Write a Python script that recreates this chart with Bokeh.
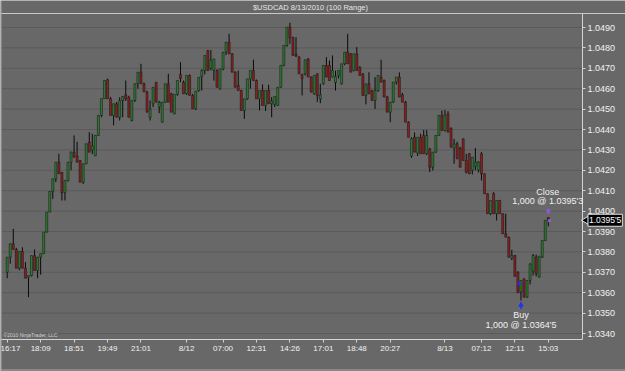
from bokeh.plotting import figure
from bokeh.models import (Range1d, FixedTicker, Label, ColumnDataSource, NumeralTickFormatter,
                          Arrow, NormalHead, Span)
from bokeh.embed import file_html
from bokeh.resources import INLINE

BASE = 1.0300
PIP = 0.0001

open_pips = [
    70.0, 77.4, 84.0, 81.2, 72.0, 80.2, 72.0, 67.6, 68.4, 78.2,
    70.9, 77.4, 79.1, 89.7, 99.5, 109.6, 115.8, 124.0, 119.0, 109.0,
    115.0, 124.0, 128.9, 127.0, 124.8, 114.2, 123.2, 133.8, 130.0, 127.1,
    137.1, 146.9, 155.1, 164.4, 155.1, 146.9, 152.6, 146.0, 154.2, 157.0,
    155.8, 144.4, 154.2, 162.4, 168.1, 162.4, 158.4, 146.0, 152.6, 163.2,
    151.0, 143.6, 153.4, 162.4, 157.5, 147.7, 157.2, 167.0, 163.2, 157.5,
    166.5, 156.7, 150.1, 159.1, 166.0, 168.9, 178.7, 170.0, 169.0, 168.9,
    159.9, 169.7, 177.9, 182.8, 177.1, 168.1, 161.6, 159.1, 149.3, 155.0,
    164.8, 168.9, 164.0, 155.0, 159.1, 151.8, 159.1, 152.6, 152.3, 151.8,
    160.7, 171.4, 181.2, 190.2, 185.0, 177.0, 175.5, 167.0, 167.3, 174.6,
    165.7, 157.5, 167.3, 155.0, 162.4, 171.4, 171.4, 165.7, 163.0, 166.5,
    162.4, 172.2, 177.9, 177.1, 168.9, 177.1, 170.5, 167.3, 156.7, 162.4,
    159.1, 154.2, 159.1, 165.7, 164.0, 155.9, 148.5, 153.4, 163.2, 165.7,
    157.0, 153.4, 143.6, 127.0, 136.2, 128.4, 136.2, 137.1, 128.1, 130.5,
    121.5, 128.9, 137.1, 146.9, 139.5, 147.7, 140.5, 131.0, 133.0, 130.9,
    135.4, 124.8, 128.1, 120.0, 122.0, 120.0, 128.1, 118.3, 108.5, 98.7,
    108.5, 98.7, 105.2, 98.7, 88.9, 87.2, 76.9, 78.2, 70.1, 60.3,
    66.8, 57.8, 66.0, 70.5, 77.4, 67.6, 77.4, 85.6, 96.8,
]
high_pips = [
    77.4, 84.0, 91.3, 82.0, 80.2, 82.3, 75.0, 68.4, 78.2, 81.2,
    77.4, 79.1, 89.7, 99.5, 109.6, 115.8, 124.0, 128.1, 119.0, 115.0,
    124.0, 129.0, 137.1, 134.0, 125.0, 123.2, 133.0, 138.7, 137.9, 137.1,
    146.9, 155.1, 164.0, 164.9, 156.0, 152.6, 153.5, 155.8, 156.2, 164.0,
    156.5, 154.2, 162.4, 168.1, 172.2, 163.0, 159.0, 154.2, 160.7, 163.2,
    154.0, 153.4, 162.4, 167.3, 158.0, 157.2, 164.0, 173.0, 164.0, 166.5,
    167.0, 157.5, 158.8, 165.6, 169.5, 176.3, 179.0, 179.0, 174.6, 169.5,
    169.7, 177.9, 182.8, 186.9, 177.5, 168.5, 168.9, 159.5, 155.0, 164.8,
    168.9, 174.2, 164.5, 159.1, 162.1, 159.1, 162.0, 155.9, 156.2, 160.7,
    171.4, 181.2, 190.2, 192.3, 185.5, 185.3, 176.0, 167.3, 174.2, 175.0,
    166.0, 166.5, 167.5, 162.4, 171.4, 175.5, 173.8, 176.3, 168.9, 168.9,
    172.2, 177.9, 186.9, 177.5, 177.1, 180.4, 171.0, 167.5, 162.4, 168.1,
    159.5, 165.7, 166.5, 174.2, 164.5, 156.5, 153.4, 163.2, 165.7, 168.0,
    158.0, 154.0, 144.0, 136.2, 138.5, 136.2, 137.9, 139.8, 139.8, 131.0,
    128.9, 137.1, 146.9, 149.3, 149.6, 149.0, 141.1, 135.4, 134.0, 131.5,
    135.6, 128.1, 128.5, 126.4, 130.9, 124.5, 129.0, 118.5, 108.7, 105.2,
    109.3, 105.2, 105.5, 98.9, 98.7, 87.5, 81.0, 78.5, 70.5, 66.0,
    67.0, 66.0, 74.5, 79.0, 78.7, 77.9, 85.6, 95.4, 97.0,
]
low_pips = [
    67.1, 74.2, 81.2, 72.0, 71.0, 72.0, 67.1, 57.8, 68.0, 70.9,
    67.1, 68.8, 79.1, 89.5, 99.5, 106.0, 114.2, 118.3, 105.2, 105.2,
    114.5, 120.0, 126.4, 124.0, 114.2, 113.3, 123.0, 128.9, 128.0, 127.1,
    137.0, 146.0, 155.0, 155.1, 146.9, 142.0, 146.0, 144.4, 146.0, 154.0,
    146.0, 144.0, 153.5, 160.0, 162.4, 158.4, 148.5, 144.4, 151.0, 153.4,
    148.0, 143.4, 153.0, 153.4, 148.5, 147.5, 156.5, 163.2, 157.5, 157.0,
    156.7, 150.1, 149.5, 158.5, 159.1, 167.0, 168.9, 169.0, 164.0, 160.7,
    159.5, 169.0, 176.5, 177.1, 168.1, 160.7, 159.1, 149.3, 145.2, 154.5,
    160.0, 164.0, 155.0, 149.3, 151.8, 149.0, 152.6, 146.0, 151.0, 151.5,
    160.5, 171.0, 180.5, 182.0, 176.3, 175.5, 167.3, 156.7, 166.5, 165.7,
    158.3, 157.0, 153.5, 152.9, 162.0, 165.7, 164.0, 165.5, 159.1, 165.0,
    162.0, 171.5, 172.2, 168.1, 168.5, 168.9, 166.5, 156.7, 152.3, 157.5,
    154.2, 150.1, 158.5, 163.2, 155.9, 148.5, 143.6, 153.0, 162.0, 155.9,
    153.4, 143.6, 136.2, 126.1, 128.9, 127.0, 128.1, 128.1, 127.5, 119.1,
    119.9, 128.5, 136.9, 139.5, 139.0, 138.7, 131.3, 123.2, 125.6, 121.5,
    124.8, 118.5, 118.3, 118.0, 120.0, 119.0, 115.0, 108.5, 98.7, 98.0,
    98.7, 95.4, 98.7, 88.9, 87.2, 77.4, 76.0, 68.0, 60.0, 56.2,
    57.8, 57.5, 64.0, 68.4, 68.0, 67.5, 77.0, 85.4, 92.5,
]
close_pips = [
    77.4, 84.0, 81.2, 72.0, 80.2, 72.0, 67.1, 68.4, 78.2, 70.9,
    77.4, 79.1, 89.7, 99.5, 109.6, 115.8, 124.0, 118.3, 109.0, 115.0,
    124.0, 129.0, 126.4, 124.0, 114.2, 123.2, 133.0, 128.9, 132.0, 137.1,
    146.9, 155.1, 164.0, 155.1, 146.9, 152.6, 146.0, 154.2, 156.2, 155.0,
    146.0, 154.2, 162.4, 168.1, 162.4, 158.4, 148.5, 150.0, 160.7, 153.4,
    153.4, 153.4, 162.4, 153.4, 148.5, 157.2, 164.0, 165.0, 157.5, 166.5,
    156.7, 150.1, 158.8, 165.6, 168.9, 176.3, 168.9, 174.0, 174.6, 160.7,
    169.7, 177.9, 182.8, 177.1, 168.1, 160.7, 159.1, 149.3, 155.0, 164.8,
    168.9, 164.0, 155.0, 159.1, 151.8, 159.1, 152.6, 154.0, 156.2, 160.7,
    171.4, 181.2, 190.2, 185.0, 176.3, 176.0, 167.3, 165.0, 174.2, 165.7,
    158.3, 166.5, 156.7, 157.0, 171.4, 165.7, 164.0, 168.9, 166.0, 168.9,
    172.2, 177.9, 172.2, 168.1, 177.1, 168.9, 166.5, 156.7, 162.4, 157.5,
    154.2, 159.1, 166.5, 163.2, 155.9, 148.5, 153.4, 163.2, 165.7, 155.9,
    153.4, 143.6, 136.2, 135.5, 128.9, 136.2, 128.1, 128.1, 137.1, 121.5,
    128.9, 137.1, 146.9, 139.5, 146.9, 138.7, 131.3, 132.9, 125.6, 121.5,
    124.8, 119.1, 118.3, 126.4, 124.0, 124.0, 118.3, 108.5, 98.7, 105.2,
    98.7, 105.2, 98.7, 88.9, 87.2, 77.4, 78.2, 68.0, 60.0, 66.0,
    57.8, 66.0, 74.0, 78.2, 69.3, 77.9, 85.6, 95.4, 95.5,
]

tick_bars = [0, 11, 22, 33, 44, 59, 71, 82, 93, 104, 115, 126, 144, 156, 167, 178]
tick_labels = ["16:17", "18:09", "18:51", "19:49", "21:01", "8/12", "07:00", "12:31",
               "14:26", "17:01", "18:48", "20:27", "8/13", "07:12", "12:11", "15:03"]
price_ticks = [1.0340, 1.0350, 1.0360, 1.0370, 1.0380, 1.0390, 1.0400, 1.0410,
               1.0420, 1.0430, 1.0440, 1.0450, 1.0460, 1.0470, 1.0480, 1.0490]

title_text = "$USDCAD  8/13/2010 (100 Range)"
buy_bar = 169
buy_price = 1.03645
buy_text = "1,000 @ 1.0364'5"
close_bar = 178
close_price = 1.03953
close_text = "1,000 @ 1.0395'3"
last_price_text = "1.0395'5"

# ---- layout helpers (pixel geometry of the page) ----
W, H = 625, 371
PX0, BAR_PX = 6.7, 3.04           # x pixel of bar 0, pixels per bar
REF_PRICE, REF_PX, PX_PER_PIP = 1.0490, 27.0, 2.04


def bx(px):
    return (px - PX0) / BAR_PX


def py(px):
    return REF_PRICE - (px - REF_PX) / PX_PER_PIP * PIP


AXIS_X = bx(582)      # price axis line
AXIS_Y = py(339)      # time axis line
TOP_Y = py(13)

FONT = "Liberation Sans"
BG = "#686868"
LIGHT = "#d4d4d4"

o = [BASE + v * PIP for v in open_pips]
h = [BASE + v * PIP for v in high_pips]
l = [BASE + v * PIP for v in low_pips]
c = [BASE + v * PIP for v in close_pips]
idx = list(range(len(o)))
colors = ["#2c7a31" if cc >= oo else "#8a2020" for oo, cc in zip(o, c)]
src = ColumnDataSource(dict(x=idx, o=o, h=h, l=l, c=c,
                            top=[max(a, b) for a, b in zip(o, c)],
                            bot=[min(a, b) for a, b in zip(o, c)],
                            col=colors))

p = figure(width=W, height=H, output_backend="svg", toolbar_location=None,
           x_range=Range1d(bx(0), bx(W)), y_range=Range1d(py(H), py(0)),
           x_axis_location="below", y_axis_location="right",
           min_border=0, min_border_left=0, min_border_right=0,
           min_border_top=0, min_border_bottom=0)
p.background_fill_color = BG
p.border_fill_color = BG
p.outline_line_color = None
p.xgrid.visible = False
p.ygrid.visible = False

# horizontal grid lines, only inside the price area
p.segment(x0=[bx(1)] * len(price_ticks), x1=[AXIS_X] * len(price_ticks),
          y0=price_ticks, y1=price_ticks, line_color="#5a5a5a", line_width=1)

# frame borders
p.add_layout(Span(location=TOP_Y, dimension="width", line_color="#c8c8c8", line_width=1))
p.add_layout(Span(location=py(369.5), dimension="width", line_color="#a8a8a8", line_width=1))
p.add_layout(Span(location=bx(0.5), dimension="height", line_color="#a8a8a8", line_width=1))

# price axis
ya = p.yaxis[0]
ya.fixed_location = AXIS_X
ya.bounds = (AXIS_Y, TOP_Y)
ya.ticker = FixedTicker(ticks=price_ticks)
ya.formatter = NumeralTickFormatter(format="0.0000")
ya.axis_line_color = LIGHT
ya.major_tick_line_color = LIGHT
ya.major_tick_out = 3
ya.major_tick_in = 0
ya.minor_tick_out = 0
ya.minor_tick_in = 0
ya.major_label_standoff = 2
ya.major_label_text_color = "#f2f2f2"
ya.major_label_text_font = FONT
ya.major_label_text_font_size = "9px"

# time axis
xa = p.xaxis[0]
xa.fixed_location = AXIS_Y
xa.bounds = (bx(0), AXIS_X)
xa.ticker = FixedTicker(ticks=tick_bars)
xa.major_label_overrides = {b: t for b, t in zip(tick_bars, tick_labels)}
xa.axis_line_color = LIGHT
xa.major_tick_line_color = LIGHT
xa.major_tick_out = 3
xa.major_tick_in = 0
xa.minor_tick_out = 0
xa.minor_tick_in = 0
xa.major_label_standoff = 1
xa.major_label_text_color = "#f2f2f2"
xa.major_label_text_font = FONT
xa.major_label_text_font_size = "8px"

# candles
p.segment(x0="x", y0="l", x1="x", y1="h", source=src, line_color="#0a0a0a", line_width=1)
p.vbar(x="x", width=0.68, top="top", bottom="bot", source=src,
       fill_color="col", line_color="#141414", line_width=0.5)

# trade markers
hi_close = h[close_bar]
lo_buy = l[buy_bar]
p.scatter(x=[buy_bar - 0.6], y=[buy_price], size=3.5, color="#2030ff", line_color=None)
p.scatter(x=[close_bar + 0.4], y=[close_price], size=3.5, color="#8a5ad8", line_color=None)
p.add_layout(Arrow(end=NormalHead(size=4, fill_color="#2030ff", line_color="#2030ff"),
                   x_start=buy_bar, y_start=lo_buy - 4.2 * PIP,
                   x_end=buy_bar, y_end=lo_buy - 0.9 * PIP,
                   line_color="#2030ff", line_width=1.5))
p.add_layout(Arrow(end=NormalHead(size=4, fill_color="#8a5ad8", line_color="#8a5ad8"),
                   x_start=close_bar, y_start=hi_close + 4.4 * PIP,
                   x_end=close_bar, y_end=hi_close + 1.6 * PIP,
                   line_color="#8a5ad8", line_width=1.5))


def txt(x, y, t, size="9px", color="#f0f0f0", align="center", **kw):
    p.add_layout(Label(x=x, y=y, text=t, text_font=FONT, text_font_size=size,
                       text_color=color, text_align=align, text_baseline="middle", **kw))


txt(buy_bar, lo_buy - 7.1 * PIP, "Buy")
txt(buy_bar, lo_buy - 11.8 * PIP, buy_text)
txt(close_bar - 0.2, hi_close + 12.3 * PIP, "Close")
txt(close_bar - 0.2, hi_close + 7.9 * PIP, close_text)

# title and copyright
txt(bx(311), py(6.5), title_text, size="7.5px", color="#e6e6e6")
txt(bx(3), py(334.5), "\u00a92010 NinjaTrader, LLC", size="5px", color="#d0d0d0", align="left")

# last price tag on the price axis
p.scatter(x=[bx(585.5)], y=[c[-1]], marker="triangle", angle=1.5708, size=8,
          fill_color="black", line_color="#e0e0e0", line_width=1)
p.add_layout(Label(x=bx(587.5), y=c[-1], text=last_price_text, text_font=FONT,
                   text_font_size="8.5px", text_color="white", text_align="left",
                   text_baseline="middle", background_fill_color="black",
                   border_line_color="#e0e0e0", border_line_width=1, padding=1))

open("out.html", "w").write(file_html(p, INLINE))
